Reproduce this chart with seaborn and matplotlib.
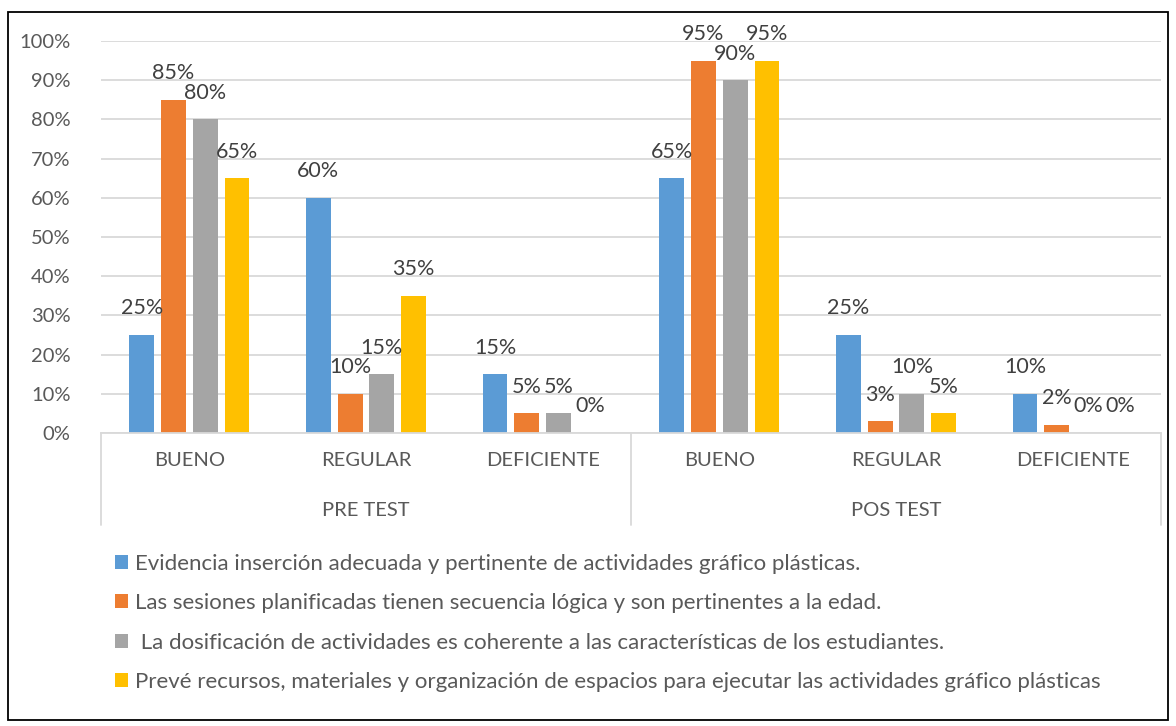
import matplotlib
matplotlib.use("Agg")
import matplotlib.pyplot as plt
import matplotlib.patches as mpatches
import matplotlib.transforms as mtrans
from matplotlib.lines import Line2D
import seaborn as sns
import pandas as pd

categories = ["BUENO", "REGULAR", "DEFICIENTE"]
phases = ["PRE TEST", "POS TEST"]
series = [
    "Evidencia inserción adecuada y pertinente de actividades gráfico plásticas.",
    "Las sesiones planificadas tienen secuencia lógica y son pertinentes a la edad.",
    " La dosificación de actividades es coherente a las características de los estudiantes.",
    "Prevé recursos, materiales y organización de espacios para ejecutar las actividades gráfico plásticas",
]
pre_vals = [
    [25, 60, 15],
    [85, 10, 5],
    [80, 15, 5],
    [65, 35, 0],
]
pos_vals = [
    [65, 25, 10],
    [95, 3, 2],
    [90, 10, 0],
    [95, 5, 0],
]
colors = ["#5B9BD5", "#ED7D31", "#A5A5A5", "#FFC000"]

rows = []
for si, s in enumerate(series):
    for pi, (ph, vals) in enumerate(zip(phases, [pre_vals, pos_vals])):
        for ci, c in enumerate(categories):
            rows.append({"x": f"{ph}|{c}", "serie": s, "valor": vals[si][ci]})
df = pd.DataFrame(rows)
order = [f"{ph}|{c}" for ph in phases for c in categories]

sns.set_theme(style="white")
plt.rcParams["font.family"] = ["Lato", "DejaVu Sans"]
txt = "#595959"

fig = plt.figure(figsize=(11.76, 7.26), dpi=100)
W, H = 1176, 726
ax = fig.add_axes([101 / W, 1 - 433 / H, (1161 - 101) / W, (433 - 41) / H])

sns.barplot(data=df, x="x", y="valor", hue="serie", order=order, hue_order=series,
            palette=colors, width=0.72, gap=0.22, ax=ax, legend=False,
            saturation=1, edgecolor="none", linewidth=0)

for cont in ax.containers:
    ax.bar_label(cont, labels=[f"{v:.0f}%" for v in cont.datavalues],
                 padding=12, fontsize=15.5, color="#404040")

ax.set_ylim(0, 100)
ax.set_xlim(-0.5, 5.5)
ax.set_yticks(range(0, 101, 10))
ax.set_yticklabels([f"{v}%" for v in range(0, 101, 10)], fontsize=14.5, color=txt)
ax.set_xticks(range(6))
ax.set_xticklabels(categories * 2, fontsize=14.5, color=txt)
ax.tick_params(axis="both", length=0)
ax.tick_params(axis="x", pad=14)
ax.tick_params(axis="y", pad=22)
ax.set_xlabel("")
ax.set_ylabel("")
ax.yaxis.grid(True, color="#D9D9D9", linewidth=1.3)
ax.set_axisbelow(True)
for sp in ["left", "right", "top"]:
    ax.spines[sp].set_visible(False)
ax.spines["bottom"].set_color("#D9D9D9")
ax.spines["bottom"].set_linewidth(1.3)

trans = mtrans.blended_transform_factory(ax.transData, ax.transAxes)
ybot = -(525 - 433) / (433 - 41)
for xv in [-0.5, 2.5, 5.5]:
    ax.add_line(Line2D([xv, xv], [0, ybot], transform=trans, color="#D9D9D9",
                       linewidth=1.3, clip_on=False))
for i, ph in enumerate(phases):
    ax.text(1 + 3 * i, -(510 - 433) / (433 - 41), ph, transform=trans,
            ha="center", va="center", fontsize=14.5, color=txt)

handles = [mpatches.Rectangle((0, 0), 1, 1, facecolor=c, edgecolor="none") for c in colors]
fig.legend(handles, series, loc="upper left", bbox_to_anchor=(106 / W, 1 - 545 / H),
           frameon=False, fontsize=16, handlelength=0.6, handleheight=0.6,
           handletextpad=0.3, labelspacing=0.87, labelcolor=txt, borderaxespad=0)

fig.patches.append(mpatches.Rectangle((8 / W, 1 - 720 / H), (1168 - 8) / W, (720 - 12) / H,
                                      transform=fig.transFigure, fill=False,
                                      edgecolor="black", linewidth=1.3))

fig.savefig("out.png", dpi=100)
